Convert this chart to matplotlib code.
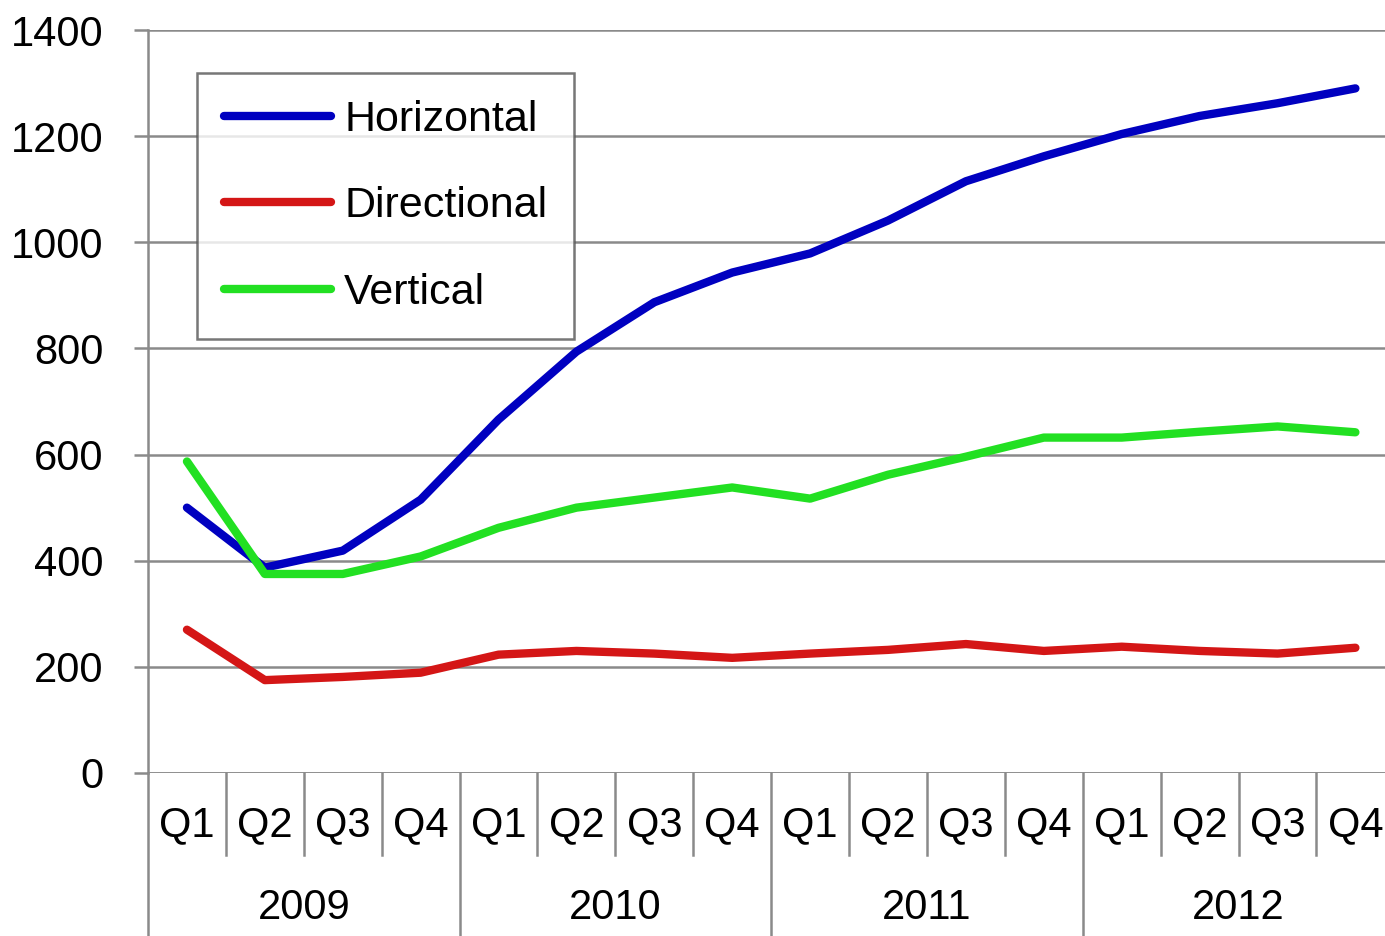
import matplotlib.pyplot as plt
import matplotlib.transforms as mtransforms

plt.rcParams['font.family'] = ['Liberation Sans', 'DejaVu Sans']

# data
quarters = ['Q1', 'Q2', 'Q3', 'Q4'] * 4
years = ['2009', '2010', '2011', '2012']
horizontal = [500, 387, 419, 515, 666, 794, 887, 943, 979, 1041, 1115, 1162, 1204, 1238, 1262, 1290]
directional = [270, 175, 181, 189, 223, 230, 225, 217, 225, 232, 243, 230, 238, 230, 225, 236]
vertical = [587, 375, 375, 408, 462, 500, 519, 538, 517, 562, 596, 632, 632, 643, 653, 642]

x = list(range(len(quarters)))

fig = plt.figure(figsize=(13.85, 9.36), dpi=100)
ax = fig.add_axes([148 / 1385, 1 - 773 / 936, 1 - 148 / 1385, (773 - 30) / 936])

ax.plot(x, horizontal, color='#0000c0', lw=6, label='Horizontal', solid_capstyle='round')
ax.plot(x, directional, color='#d41616', lw=6, label='Directional', solid_capstyle='round')
ax.plot(x, vertical, color='#22e022', lw=6, label='Vertical', solid_capstyle='round')

ax.set_xlim(-0.5, 15.38)
ax.set_ylim(0, 1400)
ax.set_yticks(range(0, 1401, 200))
ax.yaxis.grid(True, color='#8a8a8a', lw=1.8)
ax.set_axisbelow(True)
for s in ['top', 'right', 'bottom']:
    ax.spines[s].set_visible(False)
ax.spines['left'].set_color('#8a8a8a')
ax.spines['left'].set_linewidth(1.8)
ax.axhline(0, color='#8a8a8a', lw=1.8, zorder=1)
ax.tick_params(axis='y', length=10, width=1.8, color='#8a8a8a', pad=22, labelsize=30)
ax.set_xticks([])

# two level category axis
trans = mtransforms.blended_transform_factory(ax.transData, ax.transAxes)
for i, q in enumerate(quarters):
    ax.text(i, -0.070, q, transform=trans, ha='center', va='center', fontsize=30)
    b = i + 0.5
    if i < len(quarters) - 1:
        if (i + 1) % 4 == 0:
            ax.plot([b, b], [0, -0.22], transform=trans, color='#8a8a8a', lw=1.8, clip_on=False)
        else:
            ax.plot([b, b], [0, -0.110], transform=trans, color='#8a8a8a', lw=1.8, clip_on=False)
ax.plot([-0.5, -0.5], [0, -0.22], transform=trans, color='#8a8a8a', lw=1.8, clip_on=False)
for j, yr in enumerate(years):
    ax.text(4 * j + 1.5, -0.182, yr, transform=trans, ha='center', va='center', fontsize=30)

leg = ax.legend(loc='upper left', bbox_to_anchor=(197 / 1385, 1 - 73 / 936),
                bbox_transform=fig.transFigure, fontsize=31, frameon=True, fancybox=False,
                handlelength=2.5, handletextpad=0.3, labelspacing=1.08, borderpad=0.62,
                borderaxespad=0)
leg.get_frame().set_edgecolor('#555555')
leg.get_frame().set_linewidth(1.8)

plt.savefig('out.png', dpi=100)
